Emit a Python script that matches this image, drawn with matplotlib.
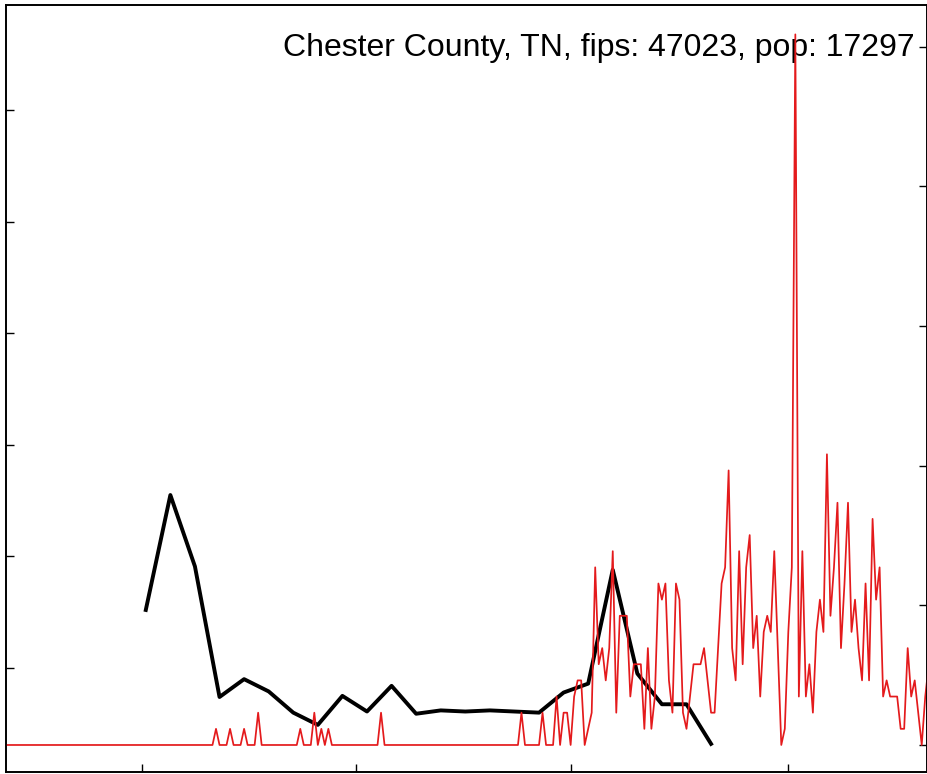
import pandas as pd
import matplotlib.pyplot as plt
import numpy as np

county = "Chester County, TN"
fips = 47023
pop = 17297

# daily new cases, starting 2020-01-22
daily_cases = [
    0, 0, 0, 0, 0, 0, 0, 0, 0, 0,
    0, 0, 0, 0, 0, 0, 0, 0, 0, 0,
    0, 0, 0, 0, 0, 0, 0, 0, 0, 0,
    0, 0, 0, 0, 0, 0, 0, 0, 0, 0,
    0, 0, 0, 0, 0, 0, 0, 0, 0, 0,
    0, 0, 0, 0, 0, 0, 0, 0, 0, 0,
    1, 0, 0, 0, 1, 0, 0, 0, 1, 0,
    0, 0, 2, 0, 0, 0, 0, 0, 0, 0,
    0, 0, 0, 0, 1, 0, 0, 0, 2, 0,
    1, 0, 1, 0, 0, 0, 0, 0, 0, 0,
    0, 0, 0, 0, 0, 0, 0, 2, 0, 0,
    0, 0, 0, 0, 0, 0, 0, 0, 0, 0,
    0, 0, 0, 0, 0, 0, 0, 0, 0, 0,
    0, 0, 0, 0, 0, 0, 0, 0, 0, 0,
    0, 0, 0, 0, 0, 0, 0, 2, 0, 0,
    0, 0, 0, 2, 0, 0, 0, 3, 0, 2,
    2, 0, 3, 4, 4, 0, 1, 2, 11, 5,
    6, 4, 6, 12, 2, 8, 8, 8, 3, 5,
    5, 5, 1, 6, 1, 3, 10, 9, 10, 4,
    2, 10, 9, 2, 1, 3, 5, 5, 5, 6,
    4, 2, 2, 6, 10, 11, 17, 6, 4, 12,
    5, 11, 13, 6, 8, 3, 7, 8, 7, 12,
    6, 0, 1, 7, 11, 44, 3, 12, 3, 5,
    2, 7, 9, 7, 18, 8, 11, 15, 6, 10,
    15, 7, 9, 6, 4, 10, 4, 14, 9, 11,
    3, 4, 3, 3, 3, 1, 1, 6, 3, 4,
    2, 0, 3, 5,
]

# weekly series (left axis), starting 2020-03-02
weekly_vals = [1.52, 2.55, 1.91, 0.74, 0.90, 0.79, 0.60, 0.49,
               0.75, 0.61, 0.84, 0.59, 0.62, 0.61, 0.62, 0.61,
               0.60, 0.78, 0.86, 1.88, 0.95, 0.675, 0.675, 0.32]

month_ticks = ["2020-03-01", "2020-05-01", "2020-07-01", "2020-09-01"]

days = pd.date_range("2020-01-22", periods=len(daily_cases), freq="D")
weeks = pd.date_range("2020-03-02", periods=len(weekly_vals), freq="7D")
per100k = np.array(daily_cases) * 1e5 / pop

fig = plt.figure(figsize=(9.28, 7.74), dpi=100)
ax = fig.add_axes([6 / 928, 2 / 774, 921 / 928, 767 / 774])

ax.plot(weeks, weekly_vals, color="black", lw=2.8)
ax.set_ylim(0.068, 6.941)
ax.set_yticks([1, 2, 3, 4, 5, 6])
ax.set_xlim(pd.Timestamp("2020-01-22 04:30"), pd.Timestamp("2020-10-10 12:00"))
ax.set_xticks(pd.to_datetime(month_ticks))
ax.tick_params(direction="in", length=6, width=1, labelleft=False, labelbottom=False)

ax.text(0.987, 0.933, f"{county}, fips: {fips}, pop: {pop}",
        transform=ax.transAxes, ha="right", va="baseline",
        fontsize=23, family="Liberation Sans")

# daily cases per 100k on the right axis
ax2 = ax.twinx()
ax2.plot(days, per100k, color="#e41a1c", lw=1.25)
ax2.set_ylim(-9.67, 264.9)
ax2.set_yticks([0, 50, 100, 150, 200, 250])
ax2.tick_params(direction="in", length=6, width=1, labelright=False)

for a in (ax, ax2):
    for s in a.spines.values():
        s.set_linewidth(1.2)

fig.savefig("out.png", dpi=100)
